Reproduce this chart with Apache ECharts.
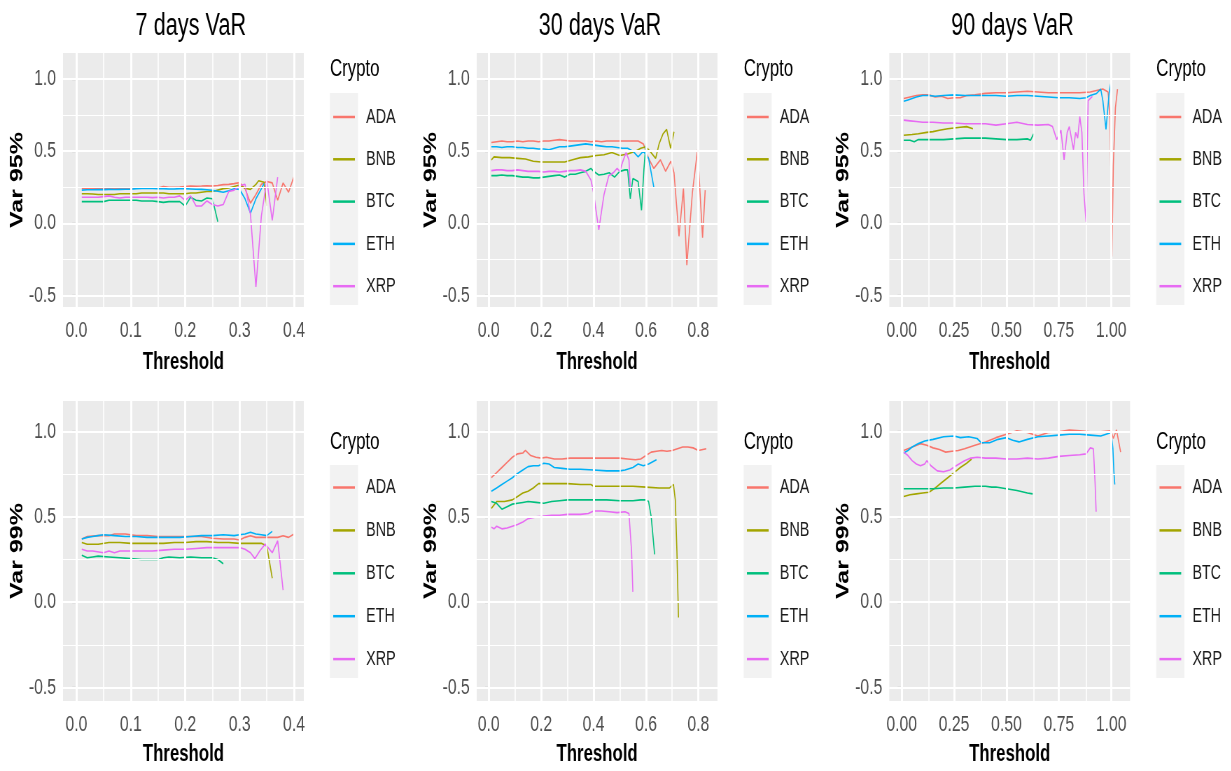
<!DOCTYPE html>
<html><head><meta charset="utf-8">
<script src="https://cdn.jsdelivr.net/npm/echarts@6/dist/echarts.min.js"></script>
<style>
html,body{margin:0;padding:0;background:#fff;overflow:hidden;}
#chart{width:1758.6px;height:771px;transform:scaleX(0.7);transform-origin:0 0;}
</style>
</head><body><div id="chart"></div>
<script>
// ---------------- data ----------------
const cryptos = ['ADA', 'BNB', 'BTC', 'ETH', 'XRP'];
const colors = ['#F8766D', '#A3A500', '#00BF7D', '#00B0F6', '#E76BF3'];
const panelTitles = ['7 days VaR', '30 days VaR', '90 days VaR'];
const rowNames = ['Var 95%', 'Var 99%'];
const legendTitle = 'Crypto';
const xName = 'Threshold';
const yTicks = [-0.5, 0, 0.5, 1.0];
const yTickLabels = ['-0.5', '0.0', '0.5', '1.0'];
const yMinor = [-0.25, 0.25, 0.75];
const xTicks7 = [0, 0.1, 0.2, 0.3, 0.4];
const xTickLabels7 = ['0.0', '0.1', '0.2', '0.3', '0.4'];
const xMinor7 = [0.05, 0.15, 0.25, 0.35];
const xTicks30 = [0, 0.2, 0.4, 0.6, 0.8];
const xTickLabels30 = ['0.0', '0.2', '0.4', '0.6', '0.8'];
const xMinor30 = [0.1, 0.3, 0.5, 0.7];
const xTicks90 = [0, 0.25, 0.5, 0.75, 1.0];
const xTickLabels90 = ['0.00', '0.25', '0.50', '0.75', '1.00'];
const xMinor90 = [0.125, 0.375, 0.625, 0.875];

// 7 days, VaR 95%
const ada7_95 = [[0.01,0.242],[0.02,0.242],[0.03,0.243],[0.04,0.242],[0.05,0.245],[0.06,0.24],[0.07,0.242],[0.08,0.242],[0.09,0.244],[0.10,0.244],[0.11,0.245],[0.12,0.243],[0.13,0.245],[0.14,0.246],[0.15,0.245],[0.16,0.255],[0.17,0.25],[0.18,0.25],[0.19,0.252],[0.20,0.255],[0.21,0.258],[0.22,0.257],[0.23,0.258],[0.24,0.26],[0.25,0.258],[0.26,0.262],[0.27,0.268],[0.28,0.27],[0.29,0.275],[0.30,0.282],[0.31,0.24],[0.32,0.14],[0.33,0.2],[0.34,0.27],[0.35,0.29],[0.36,0.28],[0.37,0.16],[0.38,0.28],[0.39,0.215],[0.40,0.325]];
const bnb7_95 = [[0.01,0.205],[0.02,0.205],[0.03,0.203],[0.04,0.2],[0.05,0.2],[0.06,0.2],[0.07,0.2],[0.08,0.205],[0.09,0.205],[0.10,0.205],[0.11,0.205],[0.12,0.21],[0.13,0.21],[0.14,0.21],[0.15,0.21],[0.16,0.21],[0.17,0.205],[0.18,0.205],[0.19,0.205],[0.20,0.205],[0.21,0.21],[0.22,0.21],[0.23,0.215],[0.24,0.22],[0.25,0.22],[0.26,0.23],[0.27,0.24],[0.28,0.245],[0.29,0.255],[0.30,0.265],[0.31,0.243],[0.32,0.235],[0.33,0.27],[0.335,0.295],[0.34,0.29],[0.345,0.285],[0.35,0.12]];
const btc7_95 = [[0.01,0.15],[0.02,0.15],[0.03,0.15],[0.04,0.15],[0.05,0.15],[0.06,0.16],[0.07,0.16],[0.08,0.16],[0.09,0.16],[0.10,0.16],[0.11,0.16],[0.12,0.155],[0.13,0.155],[0.14,0.155],[0.15,0.15],[0.16,0.145],[0.17,0.15],[0.18,0.15],[0.19,0.15],[0.20,0.12],[0.21,0.18],[0.22,0.16],[0.23,0.155],[0.24,0.175],[0.25,0.17],[0.26,0.01]];
const eth7_95 = [[0.01,0.23],[0.02,0.232],[0.03,0.232],[0.04,0.234],[0.05,0.233],[0.06,0.235],[0.07,0.234],[0.08,0.235],[0.09,0.236],[0.10,0.236],[0.11,0.24],[0.12,0.242],[0.13,0.242],[0.14,0.242],[0.15,0.24],[0.16,0.24],[0.17,0.238],[0.18,0.238],[0.19,0.24],[0.20,0.24],[0.21,0.238],[0.22,0.236],[0.23,0.235],[0.24,0.232],[0.25,0.228],[0.26,0.222],[0.27,0.215],[0.28,0.225],[0.29,0.24],[0.30,0.235],[0.31,0.17],[0.32,0.07],[0.33,0.17],[0.34,0.24],[0.345,0.275]];
const xrp7_95 = [[0.01,0.18],[0.02,0.18],[0.03,0.18],[0.04,0.18],[0.05,0.185],[0.06,0.19],[0.07,0.18],[0.08,0.175],[0.09,0.18],[0.10,0.18],[0.11,0.18],[0.12,0.18],[0.13,0.18],[0.14,0.178],[0.15,0.18],[0.16,0.175],[0.17,0.18],[0.18,0.18],[0.19,0.19],[0.20,0.16],[0.21,0.19],[0.22,0.12],[0.23,0.12],[0.24,0.155],[0.25,0.13],[0.26,0.12],[0.27,0.13],[0.28,0.22],[0.29,0.23],[0.30,0.26],[0.31,0.27],[0.32,0.06],[0.33,-0.44],[0.34,0.05],[0.35,0.3],[0.36,0.02],[0.37,0.32]];

// 30 days, VaR 95%
const ada30_95 = [[0.01,0.56],[0.03,0.565],[0.05,0.57],[0.07,0.565],[0.09,0.565],[0.11,0.57],[0.13,0.565],[0.15,0.57],[0.17,0.57],[0.19,0.565],[0.21,0.57],[0.23,0.57],[0.25,0.575],[0.27,0.58],[0.29,0.575],[0.31,0.57],[0.33,0.57],[0.35,0.57],[0.37,0.57],[0.39,0.565],[0.41,0.57],[0.43,0.565],[0.45,0.57],[0.47,0.57],[0.49,0.57],[0.51,0.57],[0.53,0.57],[0.55,0.57],[0.57,0.57],[0.59,0.55],[0.61,0.45],[0.63,0.38],[0.655,0.44],[0.675,0.36],[0.695,0.43],[0.707,0.35],[0.726,-0.09],[0.743,0.24],[0.756,-0.29],[0.777,0.21],[0.797,0.51],[0.816,-0.1],[0.826,0.23]];
const bnb30_95 = [[0.01,0.44],[0.02,0.46],[0.05,0.455],[0.08,0.455],[0.11,0.45],[0.14,0.445],[0.17,0.43],[0.20,0.425],[0.23,0.425],[0.26,0.425],[0.29,0.425],[0.32,0.44],[0.35,0.455],[0.38,0.46],[0.41,0.47],[0.44,0.475],[0.47,0.49],[0.50,0.47],[0.53,0.48],[0.56,0.5],[0.58,0.52],[0.60,0.53],[0.615,0.5],[0.637,0.45],[0.65,0.55],[0.665,0.62],[0.679,0.65],[0.694,0.52],[0.707,0.634]];
const btc30_95 = [[0.01,0.33],[0.03,0.33],[0.05,0.335],[0.07,0.33],[0.09,0.33],[0.11,0.325],[0.13,0.32],[0.15,0.32],[0.17,0.315],[0.19,0.315],[0.21,0.32],[0.23,0.325],[0.25,0.33],[0.27,0.335],[0.29,0.32],[0.31,0.34],[0.33,0.34],[0.35,0.35],[0.37,0.36],[0.39,0.38],[0.40,0.36],[0.42,0.335],[0.44,0.34],[0.46,0.35],[0.48,0.32],[0.50,0.36],[0.52,0.37],[0.53,0.37],[0.54,0.17],[0.55,0.31],[0.57,0.29],[0.583,0.09],[0.592,0.37],[0.60,0.56]];
const eth30_95 = [[0.01,0.53],[0.03,0.53],[0.05,0.525],[0.07,0.53],[0.09,0.53],[0.11,0.525],[0.13,0.525],[0.15,0.52],[0.17,0.52],[0.19,0.515],[0.21,0.515],[0.23,0.51],[0.25,0.52],[0.27,0.53],[0.29,0.53],[0.31,0.535],[0.33,0.54],[0.35,0.545],[0.37,0.55],[0.39,0.545],[0.41,0.54],[0.43,0.535],[0.45,0.53],[0.47,0.53],[0.49,0.525],[0.51,0.52],[0.53,0.52],[0.55,0.5],[0.57,0.46],[0.59,0.5],[0.61,0.45],[0.62,0.35],[0.63,0.25]];
const xrp30_95 = [[0.01,0.365],[0.03,0.37],[0.05,0.37],[0.07,0.365],[0.09,0.365],[0.11,0.37],[0.13,0.365],[0.15,0.36],[0.17,0.36],[0.19,0.36],[0.21,0.355],[0.23,0.36],[0.25,0.36],[0.27,0.355],[0.29,0.36],[0.31,0.365],[0.33,0.365],[0.35,0.37],[0.37,0.36],[0.39,0.3],[0.40,0.21],[0.41,0.08],[0.42,-0.045],[0.43,0.08],[0.44,0.2],[0.458,0.33],[0.475,0.35],[0.49,0.38],[0.50,0.36],[0.51,0.42],[0.524,0.49],[0.535,0.44],[0.54,0.25]];

// 90 days, VaR 95%
const ada90_95 = [[0.01,0.865],[0.04,0.875],[0.07,0.885],[0.10,0.89],[0.13,0.89],[0.16,0.875],[0.19,0.88],[0.22,0.865],[0.25,0.87],[0.28,0.87],[0.31,0.885],[0.35,0.89],[0.40,0.9],[0.45,0.905],[0.50,0.905],[0.55,0.91],[0.60,0.915],[0.65,0.91],[0.70,0.905],[0.75,0.905],[0.80,0.905],[0.85,0.905],[0.90,0.91],[0.93,0.92],[0.96,0.93],[0.985,0.91],[0.995,0.72],[1.003,-0.23],[1.01,0.4],[1.02,0.8],[1.03,0.93]];
const bnb90_95 = [[0.01,0.61],[0.05,0.615],[0.08,0.62],[0.12,0.63],[0.15,0.635],[0.18,0.645],[0.22,0.655],[0.25,0.66],[0.28,0.665],[0.31,0.67],[0.34,0.655]];
const btc90_95 = [[0.01,0.575],[0.04,0.575],[0.06,0.565],[0.08,0.58],[0.12,0.58],[0.16,0.58],[0.20,0.58],[0.25,0.585],[0.30,0.59],[0.35,0.59],[0.40,0.59],[0.45,0.585],[0.50,0.58],[0.55,0.58],[0.60,0.585],[0.615,0.575],[0.63,0.62]];
const eth90_95 = [[0.01,0.845],[0.03,0.855],[0.05,0.865],[0.07,0.875],[0.10,0.885],[0.13,0.885],[0.16,0.88],[0.20,0.885],[0.25,0.89],[0.30,0.885],[0.35,0.885],[0.40,0.885],[0.45,0.885],[0.50,0.88],[0.55,0.885],[0.60,0.885],[0.65,0.88],[0.70,0.875],[0.75,0.87],[0.80,0.87],[0.85,0.865],[0.88,0.87],[0.90,0.885],[0.93,0.9],[0.95,0.93],[0.96,0.85],[0.975,0.65],[0.99,0.9],[1.0,0.99]];
const xrp90_95 = [[0.01,0.715],[0.04,0.71],[0.07,0.705],[0.10,0.7],[0.15,0.7],[0.20,0.695],[0.25,0.695],[0.30,0.69],[0.35,0.69],[0.40,0.69],[0.45,0.68],[0.50,0.69],[0.55,0.7],[0.60,0.685],[0.65,0.68],[0.70,0.685],[0.72,0.67],[0.74,0.58],[0.76,0.645],[0.775,0.44],[0.79,0.63],[0.80,0.67],[0.82,0.51],[0.83,0.63],[0.84,0.59],[0.85,0.74],[0.86,0.63],[0.87,0.2],[0.88,0.01],[0.885,0.45],[0.89,0.85],[0.91,0.88]];

// 7 days, VaR 99%
const ada7_99 = [[0.01,0.37],[0.02,0.385],[0.04,0.39],[0.06,0.39],[0.07,0.4],[0.09,0.4],[0.11,0.39],[0.13,0.39],[0.15,0.385],[0.17,0.385],[0.19,0.385],[0.21,0.385],[0.23,0.385],[0.25,0.375],[0.27,0.37],[0.29,0.37],[0.30,0.365],[0.31,0.38],[0.32,0.39],[0.33,0.38],[0.34,0.38],[0.35,0.38],[0.36,0.38],[0.37,0.38],[0.38,0.39],[0.39,0.38],[0.40,0.4]];
const bnb7_99 = [[0.01,0.35],[0.02,0.34],[0.04,0.34],[0.06,0.35],[0.08,0.35],[0.10,0.345],[0.12,0.345],[0.14,0.345],[0.16,0.345],[0.18,0.35],[0.20,0.35],[0.22,0.355],[0.24,0.355],[0.26,0.35],[0.28,0.35],[0.30,0.345],[0.32,0.345],[0.34,0.345],[0.35,0.33],[0.36,0.14]];
const btc7_99 = [[0.01,0.275],[0.02,0.26],[0.03,0.265],[0.04,0.27],[0.06,0.265],[0.08,0.26],[0.10,0.255],[0.12,0.25],[0.14,0.25],[0.15,0.25],[0.16,0.26],[0.17,0.265],[0.19,0.26],[0.21,0.265],[0.23,0.26],[0.25,0.26],[0.26,0.25],[0.27,0.225]];
const eth7_99 = [[0.01,0.37],[0.02,0.38],[0.03,0.385],[0.04,0.39],[0.05,0.395],[0.07,0.39],[0.09,0.385],[0.11,0.385],[0.13,0.38],[0.15,0.38],[0.17,0.38],[0.19,0.38],[0.21,0.385],[0.23,0.39],[0.25,0.39],[0.27,0.395],[0.29,0.39],[0.30,0.395],[0.31,0.4],[0.32,0.41],[0.33,0.4],[0.34,0.395],[0.35,0.39],[0.36,0.415]];
const xrp7_99 = [[0.01,0.31],[0.02,0.3],[0.03,0.3],[0.05,0.29],[0.06,0.3],[0.07,0.29],[0.08,0.3],[0.10,0.3],[0.12,0.3],[0.14,0.3],[0.16,0.305],[0.18,0.31],[0.20,0.31],[0.22,0.315],[0.24,0.32],[0.26,0.32],[0.28,0.32],[0.30,0.32],[0.31,0.31],[0.32,0.29],[0.328,0.255],[0.337,0.3],[0.347,0.34],[0.36,0.29],[0.37,0.36],[0.38,0.07]];

// 30 days, VaR 99%
const ada30_99 = [[0.01,0.73],[0.03,0.76],[0.05,0.79],[0.07,0.82],[0.09,0.85],[0.11,0.87],[0.13,0.875],[0.14,0.89],[0.16,0.86],[0.18,0.85],[0.20,0.845],[0.22,0.85],[0.25,0.84],[0.28,0.84],[0.31,0.845],[0.35,0.845],[0.40,0.845],[0.45,0.845],[0.50,0.845],[0.53,0.84],[0.56,0.835],[0.58,0.84],[0.60,0.86],[0.62,0.88],[0.64,0.885],[0.66,0.89],[0.68,0.885],[0.70,0.89],[0.72,0.9],[0.74,0.91],[0.76,0.91],[0.78,0.905],[0.80,0.89],[0.83,0.9]];
const bnb30_99 = [[0.01,0.55],[0.03,0.59],[0.06,0.59],[0.09,0.6],[0.11,0.62],[0.13,0.64],[0.15,0.65],[0.17,0.67],[0.19,0.695],[0.25,0.695],[0.30,0.695],[0.35,0.69],[0.39,0.69],[0.40,0.68],[0.45,0.68],[0.50,0.68],[0.55,0.68],[0.60,0.675],[0.65,0.67],[0.69,0.67],[0.705,0.69],[0.712,0.6],[0.718,0.3],[0.724,-0.09]];
const btc30_99 = [[0.01,0.59],[0.03,0.58],[0.05,0.545],[0.07,0.56],[0.09,0.575],[0.11,0.58],[0.13,0.585],[0.15,0.59],[0.18,0.585],[0.21,0.58],[0.24,0.59],[0.27,0.595],[0.30,0.6],[0.35,0.6],[0.40,0.6],[0.45,0.6],[0.50,0.595],[0.55,0.595],[0.58,0.6],[0.60,0.6],[0.61,0.59],[0.62,0.5],[0.633,0.28]];
const eth30_99 = [[0.01,0.65],[0.03,0.67],[0.05,0.69],[0.07,0.71],[0.09,0.73],[0.11,0.755],[0.13,0.775],[0.15,0.795],[0.17,0.8],[0.19,0.8],[0.21,0.815],[0.23,0.81],[0.25,0.79],[0.28,0.785],[0.31,0.78],[0.35,0.78],[0.40,0.775],[0.45,0.77],[0.50,0.77],[0.52,0.775],[0.55,0.79],[0.57,0.81],[0.59,0.8],[0.61,0.81],[0.64,0.835]];
const xrp30_99 = [[0.01,0.44],[0.02,0.43],[0.03,0.445],[0.05,0.43],[0.07,0.435],[0.09,0.445],[0.11,0.455],[0.13,0.47],[0.15,0.49],[0.18,0.5],[0.21,0.505],[0.24,0.51],[0.27,0.51],[0.30,0.515],[0.35,0.515],[0.38,0.52],[0.40,0.535],[0.43,0.535],[0.46,0.53],[0.49,0.525],[0.52,0.53],[0.535,0.52],[0.545,0.3],[0.55,0.06]];

// 90 days, VaR 99%
const ada90_99 = [[0.01,0.89],[0.03,0.9],[0.06,0.915],[0.09,0.93],[0.12,0.92],[0.15,0.905],[0.18,0.895],[0.21,0.88],[0.24,0.885],[0.27,0.89],[0.30,0.9],[0.35,0.92],[0.40,0.94],[0.45,0.965],[0.50,0.985],[0.55,1.005],[0.60,0.995],[0.65,0.975],[0.70,0.995],[0.75,1.0],[0.80,1.01],[0.85,1.005],[0.90,1.0],[0.95,1.0],[1.00,1.005],[1.01,0.96],[1.025,1.01],[1.045,0.88]];
const bnb90_99 = [[0.01,0.62],[0.04,0.63],[0.07,0.635],[0.10,0.64],[0.13,0.645],[0.16,0.67],[0.19,0.7],[0.22,0.73],[0.25,0.76],[0.28,0.79],[0.31,0.815],[0.334,0.84]];
const btc90_99 = [[0.01,0.665],[0.05,0.665],[0.10,0.665],[0.15,0.665],[0.20,0.67],[0.25,0.67],[0.30,0.675],[0.35,0.68],[0.40,0.68],[0.43,0.675],[0.45,0.675],[0.50,0.665],[0.55,0.655],[0.60,0.64],[0.625,0.635]];
const eth90_99 = [[0.01,0.875],[0.03,0.89],[0.05,0.91],[0.08,0.93],[0.11,0.945],[0.15,0.955],[0.20,0.97],[0.25,0.975],[0.28,0.965],[0.32,0.97],[0.36,0.96],[0.38,0.935],[0.42,0.935],[0.46,0.955],[0.50,0.965],[0.53,0.95],[0.56,0.94],[0.60,0.955],[0.65,0.97],[0.70,0.975],[0.75,0.98],[0.80,0.985],[0.85,0.985],[0.90,0.98],[0.95,0.975],[1.00,0.995],[1.008,0.9],[1.013,0.76],[1.017,0.69]];
const xrp90_99 = [[0.01,0.88],[0.03,0.86],[0.05,0.83],[0.07,0.81],[0.09,0.8],[0.11,0.81],[0.12,0.83],[0.14,0.8],[0.17,0.77],[0.20,0.765],[0.23,0.775],[0.26,0.8],[0.30,0.83],[0.33,0.845],[0.36,0.85],[0.40,0.845],[0.45,0.845],[0.50,0.84],[0.55,0.84],[0.60,0.845],[0.65,0.84],[0.70,0.845],[0.75,0.855],[0.80,0.86],[0.85,0.865],[0.88,0.87],[0.90,0.905],[0.915,0.9],[0.923,0.7],[0.928,0.53]];

// ---------------- layout / style ----------------
const FONT = "'Liberation Sans', Arial, sans-serif";
const panelSeries = [
  [ada7_95, bnb7_95, btc7_95, eth7_95, xrp7_95],
  [ada30_95, bnb30_95, btc30_95, eth30_95, xrp30_95],
  [ada90_95, bnb90_95, btc90_95, eth90_95, xrp90_95],
  [ada7_99, bnb7_99, btc7_99, eth7_99, xrp7_99],
  [ada30_99, bnb30_99, btc30_99, eth30_99, xrp30_99],
  [ada90_99, bnb90_99, btc90_99, eth90_99, xrp90_99]
];
const colX = [
  {left: 90, min: -0.0245, max: 0.418, ticks: xTicks7, labels: xTickLabels7, minor: xMinor7, title: 272.6},
  {left: 681, min: -0.046, max: 0.873, ticks: xTicks30, labels: xTickLabels30, minor: xMinor30, title: 857},
  {left: 1270.4, min: -0.059, max: 1.09, ticks: xTicks90, labels: xTickLabels90, minor: xMinor90, title: 1446.4}
];
const plotW = 344;
const rowY = [
  {top: 53, height: 254, nameGap: 43, legTop: 105, legGap: 18.3, boxTop: 93, boxH: 212, crypto: 69},
  {top: 401, height: 300, nameGap: 41, legTop: 475.5, legGap: 18.9, boxTop: 465, boxH: 213, crypto: 442}
];
const yMin = -0.58, yMax = 1.18;

function labelFor(ticks, labels) {
  return function (v) {
    for (let i = 0; i < ticks.length; i++) if (Math.abs(ticks[i] - v) < 1e-9) return labels[i];
    return '';
  };
}

const grids = [], xAxes = [], yAxes = [], series = [], legends = [], graphics = [];
for (let p = 0; p < 6; p++) {
  const r = Math.floor(p / 3), c = p % 3;
  const cx = colX[c], ry = rowY[r];
  grids.push({left: cx.left, top: ry.top, width: plotW, height: ry.height, show: true,
    backgroundColor: '#EBEBEB', borderWidth: 0, containLabel: false});
  xAxes.push({type: 'value', gridIndex: p, min: cx.min, max: cx.max,
    name: xName, nameLocation: 'middle', nameGap: ry.nameGap,
    nameTextStyle: {fontFamily: FONT, fontSize: 24, fontWeight: 'bold', color: '#000'},
    axisLine: {show: false},
    axisTick: {show: true, length: 4.5, customValues: cx.ticks, lineStyle: {color: '#333', width: 1.8}},
    axisLabel: {show: true, customValues: cx.ticks, formatter: labelFor(cx.ticks, cx.labels),
      margin: 12, fontFamily: FONT, fontSize: 22.5, color: '#4D4D4D'},
    splitLine: {show: false}, minorSplitLine: {show: false}});
  yAxes.push({type: 'value', gridIndex: p, min: yMin, max: yMax,
    name: rowNames[r], nameLocation: 'middle', nameRotate: 90, nameGap: 48,
    nameTextStyle: {fontFamily: FONT, fontSize: 25, fontWeight: 'bold', color: '#000'},
    axisLine: {show: false},
    axisTick: {show: true, length: 5.7, customValues: yTicks, lineStyle: {color: '#333', width: 1.1}},
    axisLabel: {show: true, customValues: yTicks, formatter: labelFor(yTicks, yTickLabels),
      margin: 10, fontFamily: FONT, fontSize: 22.5, color: '#4D4D4D'},
    splitLine: {show: false}});
  // grid lines drawn through the axes' own scales
  const ml = [];
  cx.minor.forEach(v => ml.push({xAxis: v, lineStyle: {width: 1.6}}));
  yMinor.forEach(v => ml.push({yAxis: v, lineStyle: {width: 1.0}}));
  cx.ticks.forEach(v => ml.push({xAxis: v, lineStyle: {width: 3.0}}));
  yTicks.forEach(v => ml.push({yAxis: v, lineStyle: {width: 2.0}}));
  series.push({type: 'line', name: 'grid' + p, xAxisIndex: p, yAxisIndex: p, data: [], z: 1,
    silent: true, animation: false,
    markLine: {silent: true, symbol: ['none', 'none'], animation: false, label: {show: false},
      emphasis: {disabled: true}, lineStyle: {color: '#FFFFFF', type: 'solid'}, data: ml}});
  panelSeries[p].forEach((d, i) => {
    series.push({type: 'line', name: cryptos[i], xAxisIndex: p, yAxisIndex: p, data: d,
      showSymbol: false, symbol: 'none', z: 3, animation: false, clip: true,
      lineStyle: {color: colors[i], width: 1.6}, itemStyle: {color: colors[i]},
      emphasis: {disabled: true}});
  });
  const boxLeft = cx.left + plotW + 37.4;
  legends.push({orient: 'vertical', left: boxLeft + 4.6, top: ry.legTop, padding: 0,
    itemWidth: 31, itemHeight: 2.5, itemGap: ry.legGap, icon: 'rect', selectedMode: false,
    data: cryptos,
    textStyle: {fontFamily: FONT, fontSize: 20.5, color: '#1A1A1A', lineHeight: 24, padding: [0, 0, 0, 11]}});
  graphics.push({type: 'rect', z: -1, shape: {x: boxLeft, y: ry.boxTop, width: 40, height: ry.boxH},
    style: {fill: '#F2F2F2'}, silent: true});
  graphics.push({type: 'text', x: boxLeft, y: ry.crypto, silent: true,
    style: {text: legendTitle, fill: '#000', font: '24px ' + FONT, textAlign: 'left',
      textVerticalAlign: 'middle', align: 'left', verticalAlign: 'middle'}});
  if (r === 0) {
    graphics.push({type: 'text', x: cx.title, y: 26, silent: true,
      style: {text: panelTitles[c], fill: '#000', font: '31px ' + FONT, textAlign: 'center',
        textVerticalAlign: 'middle', align: 'center', verticalAlign: 'middle'}});
  }
}

const chart = echarts.init(document.getElementById('chart'));
chart.setOption({
  animation: false,
  backgroundColor: '#FFFFFF',
  grid: grids, xAxis: xAxes, yAxis: yAxes, series: series, legend: legends,
  graphic: graphics
});
</script>
</body></html>
